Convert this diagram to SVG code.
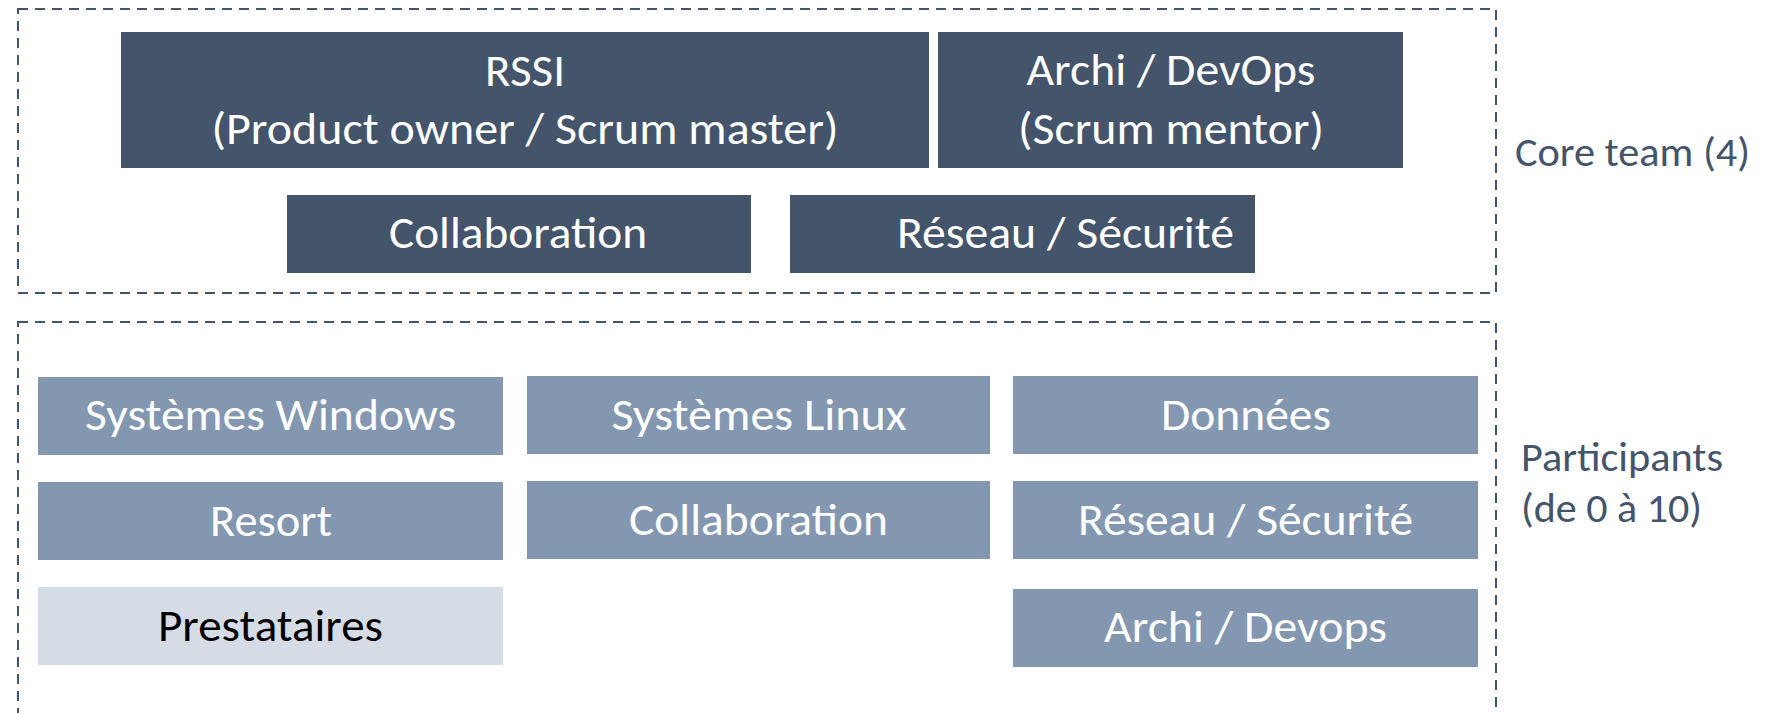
<svg xmlns="http://www.w3.org/2000/svg" width="1778" height="713" viewBox="0 0 1778 713">
<style>
.frame{fill:none;stroke:#44546A;stroke-width:2;stroke-dasharray:10 7}
.dark{fill:#44546A}
.mid{fill:#8497B0}
.light{fill:#D6DCE5}
text{font-family:Carlito,Lato,"Liberation Sans",sans-serif;font-size:46px;text-anchor:middle;fill:#FFFFFF}
text.blk{fill:#000000}
text.side{font-size:42px;text-anchor:start;fill:#44546A}
</style>
<rect width="1778" height="713" fill="#FFFFFF"/>
<g id="frames">
<rect id="core-frame" class="frame" x="18" y="9" width="1478" height="284"/>
<rect id="participants-frame" class="frame" x="18" y="322" width="1478" height="420"/>
</g>
<g id="connectors"/>
<g id="rssi"><rect class="dark" x="121" y="32" width="808" height="136"/>
<text x="525" y="86" textLength="80" lengthAdjust="spacingAndGlyphs">RSSI</text>
<text x="525" y="144" textLength="627" lengthAdjust="spacingAndGlyphs">(Product owner / Scrum master)</text></g>
<g id="archi-devops-core"><rect class="dark" x="938" y="32" width="465" height="136"/>
<text x="1171" y="85" textLength="289" lengthAdjust="spacingAndGlyphs">Archi / DevOps</text>
<text x="1171" y="144" textLength="306" lengthAdjust="spacingAndGlyphs">(Scrum mentor)</text></g>
<g id="collab-core"><rect class="dark" x="287" y="195" width="464" height="78"/>
<text x="518" y="248" textLength="258" lengthAdjust="spacingAndGlyphs">Collaboration</text></g>
<g id="reseau-core"><rect class="dark" x="790" y="195" width="465" height="78"/>
<text x="1065.5" y="248" textLength="337" lengthAdjust="spacingAndGlyphs">Réseau / Sécurité</text></g>
<g id="core-label"><text class="side" x="1515" y="166" textLength="235" lengthAdjust="spacingAndGlyphs">Core team (4)</text></g>
<g id="sys-windows"><rect class="mid" x="38" y="377" width="465" height="78"/>
<text x="270.5" y="430" textLength="371" lengthAdjust="spacingAndGlyphs">Systèmes Windows</text></g>
<g id="resort"><rect class="mid" x="38" y="482" width="465" height="78"/>
<text x="271" y="536" textLength="122" lengthAdjust="spacingAndGlyphs">Resort</text></g>
<g id="prestataires"><rect class="light" x="38" y="587" width="465" height="78"/>
<text class="blk" x="270.5" y="641" textLength="225" lengthAdjust="spacingAndGlyphs">Prestataires</text></g>
<g id="sys-linux"><rect class="mid" x="527" y="376" width="463" height="78"/>
<text x="759" y="430" textLength="295" lengthAdjust="spacingAndGlyphs">Systèmes Linux</text></g>
<g id="collab-part"><rect class="mid" x="527" y="481" width="463" height="78"/>
<text x="758.5" y="535" textLength="259" lengthAdjust="spacingAndGlyphs">Collaboration</text></g>
<g id="donnees"><rect class="mid" x="1013" y="376" width="465" height="78"/>
<text x="1246" y="430" textLength="170" lengthAdjust="spacingAndGlyphs">Données</text></g>
<g id="reseau-part"><rect class="mid" x="1013" y="481" width="465" height="78"/>
<text x="1245.5" y="535" textLength="335" lengthAdjust="spacingAndGlyphs">Réseau / Sécurité</text></g>
<g id="archi-devops-part"><rect class="mid" x="1013" y="589" width="465" height="78"/>
<text x="1245.5" y="642" textLength="283" lengthAdjust="spacingAndGlyphs">Archi / Devops</text></g>
<g id="participants-label">
<text class="side" x="1521" y="471" textLength="202" lengthAdjust="spacingAndGlyphs">Participants</text>
<text class="side" x="1521" y="522" textLength="181" lengthAdjust="spacingAndGlyphs">(de 0 à 10)</text></g>
</svg>
